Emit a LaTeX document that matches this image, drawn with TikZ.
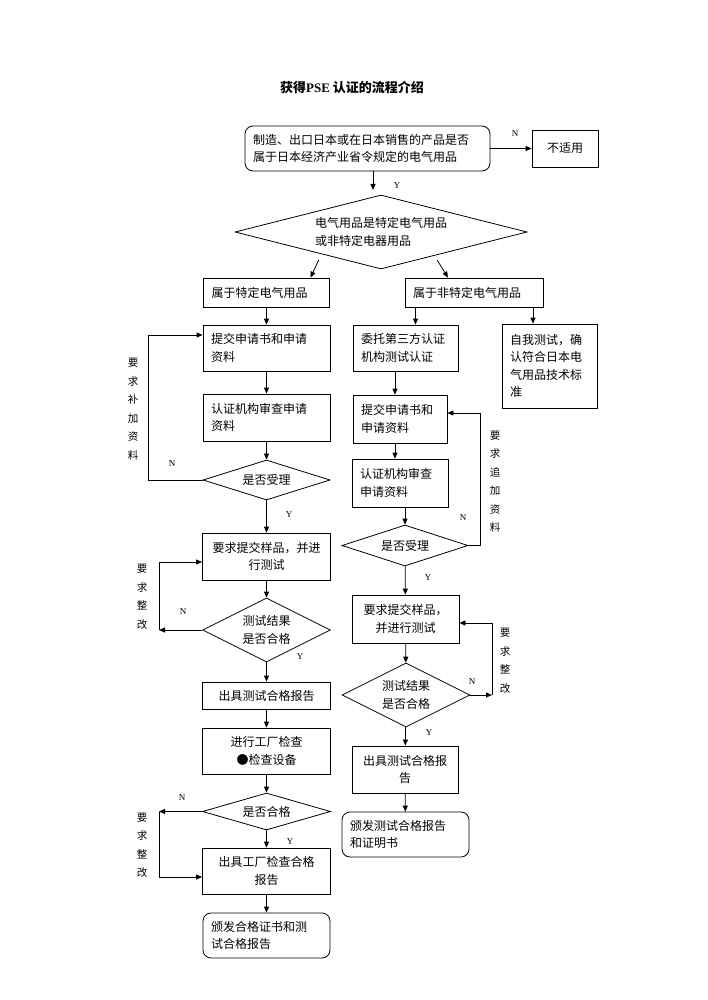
\documentclass[tikz,border=0pt]{standalone}
\usepackage{fontspec}
\setmainfont{Noto Sans CJK SC}
\newfontfamily\latfont{Liberation Serif}
\usetikzlibrary{shapes.geometric, arrows.meta}

\begin{document}
\begin{tikzpicture}[x=1pt,y=-1pt,
    font=\fontsize{12pt}{17.5pt}\selectfont,
    box/.style={draw, line width=0.8pt, inner xsep=8pt, inner ysep=0pt, align=left},
    rbox/.style={box, rounded corners=8pt},
    wh/.style 2 args={minimum width=#1, text width=#1-16, minimum height=#2},
    dia/.style={draw, diamond, line width=0.8pt, inner sep=0pt, align=left},
    side/.style={align=center, inner sep=0pt, font=\fontsize{10.5pt}{18.5pt}\selectfont},
    yn/.style={font=\latfont\fontsize{9pt}{9pt}\selectfont, inner sep=0pt},
    arr/.style={line width=0.8pt, -{Triangle[length=6pt,width=5pt]}}]
    \useasboundingbox (0,0) rectangle (707,1000);

    % title
    \node (title) at (352,87) {\fontsize{13pt}{15pt}\selectfont\bfseries 获得{\latfont PSE} 认证的流程介绍};

    % top
    \node[rbox, wh={245}{45}] (start) at (367.5,148.5) {制造、出口日本或在日本销售的产品是否\\属于日本经济产业省令规定的电气用品};
    \node[box, wh={66}{37}, align=center] (na) at (565,148.5) {不适用};
    \node[dia, minimum width=292, minimum height=74, shape aspect=3.9] (judge) at (381,232) {电气用品是特定电气用品\\或非特定电器用品};
    \node[box, wh={126}{29}] (tezhu) at (266.5,292.5) {属于特定电气用品};
    \node[box, wh={138}{29}] (feite) at (474,292.5) {属于非特定电气用品};

    % left column
    \node[box, wh={127}{46}] (sq1) at (266.5,348) {提交申请书和申请\\资料};
    \node[box, wh={127}{47}] (sc1) at (266.5,417.5) {认证机构审查申请\\资料};
    \node[dia, minimum width=127, minimum height=40, shape aspect=3] (sl1) at (266.5,480) {是否受理};
    \node[box, wh={128}{47}, align=center] (yp1) at (266.5,556.5) {要求提交样品，并进\\行测试};
    \node[dia, minimum width=128, minimum height=64, shape aspect=2] (cs1) at (266.5,630) {测试结果\\是否合格};
    \node[box, wh={128}{27}, align=center] (bg1) at (266.5,695.5) {出具测试合格报告};
    \node[box, wh={128}{46}, align=center] (gc) at (266.5,751) {进行工厂检查\\●检查设备};
    \node[dia, minimum width=128, minimum height=37, shape aspect=3.4] (hg) at (266.5,811.5) {是否合格};
    \node[box, wh={128}{46}, align=center] (gcbg) at (266.5,871) {出具工厂检查合格\\报告};
    \node[rbox, wh={127}{45}] (bf1) at (266.5,935.5) {颁发合格证书和测\\试合格报告};

    % right column
    \node[box, wh={105}{46}] (wt) at (405.5,348) {委托第三方认证\\机构测试认证};
    \node[box, wh={95}{84}] (zw) at (549.5,366) {自我测试，确\\认符合日本电\\气用品技术标\\准};
    \node[box, wh={94}{48}] (sq2) at (400,419) {提交申请书和\\申请资料};
    \node[box, wh={96}{48}] (sc2) at (400,483) {认证机构审查\\申请资料};
    \node[dia, minimum width=126, minimum height=41, shape aspect=3] (sl2) at (405,545.5) {是否受理};
    \node[box, wh={107}{48}, align=center] (yp2) at (405.5,619) {要求提交样品，\\并进行测试};
    \node[dia, minimum width=128, minimum height=64, shape aspect=2] (cs2) at (406,695) {测试结果\\是否合格};
    \node[box, wh={106}{47}, align=center] (bg2) at (405,769.5) {出具测试合格报\\告};
    \node[rbox, wh={127}{45}] (bf2) at (405.5,834.5) {颁发测试合格报告\\和证明书};

    % side notes
    \node[side] (bj1) at (133,409) {要\\求\\补\\加\\资\\料};
    \node[side] (zg1) at (142,597) {要\\求\\整\\改};
    \node[side] (zg2) at (142,845) {要\\求\\整\\改};
    \node[side] (bj2) at (495,481.5) {要\\求\\追\\加\\资\\料};
    \node[side] (zg3) at (505,660.5) {要\\求\\整\\改};

    % top arrows
    \coordinate (j0) at (373,190);
    \draw[arr] (start) -- (na);
    \draw[arr] (start.south -| j0) -- (j0);
    \draw[arr] ([shift={(11,9)}]judge.south west) -- ([xshift=44]tezhu.north);
    \draw[arr] ([shift={(-17,9.5)}]judge.south east) -- ([xshift=-26]feite.north);

    % left arrows
    \draw[arr] (tezhu) -- (sq1);
    \draw[arr] (sq1) -- (sc1);
    \draw[arr] (sc1) -- (sl1);
    \draw[arr] (sl1) -- (yp1);
    \draw[arr] (yp1) -- (cs1);
    \draw[arr] (cs1) -- (bg1);
    \draw[arr] (bg1) -- (gc);
    \draw[arr] (gc) -- (hg);
    \draw[arr] (hg) -- (gcbg);
    \draw[arr] (gcbg) -- (bf1);

    % right arrows
    \draw[arr] ([xshift=10]wt.north |- feite.south) -- ([xshift=10]wt.north);
    \draw[arr] ([xshift=-16.5]zw.north |- feite.south) -- ([xshift=-16.5]zw.north);
    \draw[arr] ([xshift=-5]sq2.north |- wt.south) -- ([xshift=-5]sq2.north);
    \draw[arr] ([xshift=-5]sq2.south) -- ([xshift=-5]sc2.north);
    \draw[arr] (sl2.north |- sc2.south) -- (sl2.north);
    \draw[arr] (sl2) -- (yp2);
    \draw[arr] (yp2) -- (cs2);
    \draw[arr] (cs2) -- (bg2);
    \draw[arr] (bg2) -- (bf2);

    % loops back
    \coordinate (f2) at (159,630);
    \coordinate (f3) at (159,811.5);
    \coordinate (g2) at (492,695);
    \draw[arr] (sl1.west) -- ++(-54,0) |- ([yshift=13]sq1.west);
    \draw[arr] (cs1.west) -- (f2);
    \draw[arr] (f2) |- ([yshift=-5.5]yp1.west);
    \draw[arr] (hg.west) -- (f3);
    \draw[arr] (f3) |- ([yshift=-6]gcbg.west);
    \draw[arr] (sl2.east) -- ++(12,0) |- ([yshift=6]sq2.east);
    \draw[arr] (cs2.east) -- (g2);
    \draw[arr] (g2) |- ([yshift=-4]yp2.east);

    % Y / N
    \node[yn] (n0) at (515,134) {N};
    \node[yn] (y0) at (397,186) {Y};
    \node[yn] (n1) at (172,464) {N};
    \node[yn] (y1) at (289,515) {Y};
    \node[yn] (n2) at (183,612) {N};
    \node[yn] (y2) at (300,657) {Y};
    \node[yn] (n3) at (182,798) {N};
    \node[yn] (y3) at (290,842) {Y};
    \node[yn] (n4) at (463,518) {N};
    \node[yn] (y4) at (428,578) {Y};
    \node[yn] (n5) at (472,682) {N};
    \node[yn] (y5) at (429,733) {Y};
\end{tikzpicture}
\end{document}
